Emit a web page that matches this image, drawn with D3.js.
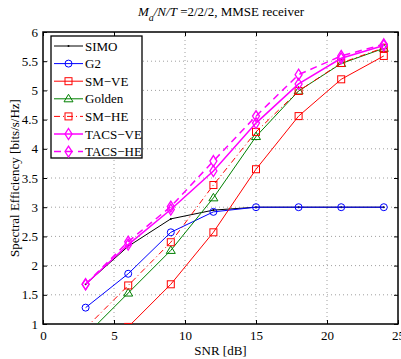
<!DOCTYPE html>
<html>
<head>
<meta charset="utf-8">
<script src="https://cdn.jsdelivr.net/npm/d3@7"></script>
<style>
  body { margin: 0; background: #fff; }
  svg { display: block; font-family: "Liberation Serif", "DejaVu Serif", serif; }
</style>
</head>
<body>
<div id="chart"></div>
<script>
const snr = [3, 6, 9, 12, 15, 18, 21, 24];
const simo = [1.68, 2.33, 2.80, 2.95, 3.0, 3.0, 3.0, 3.0];
const g2 = [1.28, 1.86, 2.57, 2.92, 3.0, 3.0, 3.0, 3.0];
const smVe = [0.45, 0.95, 1.68, 2.57, 3.65, 4.56, 5.19, 5.59];
const golden = [0.80, 1.53, 2.26, 3.16, 4.21, 4.99, 5.46, 5.72];
const smHe = [0.93, 1.66, 2.40, 3.38, 4.29, 4.99, 5.47, 5.73];
const tacsVe = [1.68, 2.36, 2.96, 3.62, 4.44, 5.11, 5.55, 5.77];
const tacsHe = [1.68, 2.41, 3.01, 3.79, 4.56, 5.27, 5.59, 5.79];
const seriesNames = ['SIMO', 'G2', 'SM\u2212VE', 'Golden', 'SM\u2212HE', 'TACS\u2212VE', 'TACS\u2212HE'];
const xTicks = [0, 5, 10, 15, 20, 25];
const yTicks = [1, 1.5, 2, 2.5, 3, 3.5, 4, 4.5, 5, 5.5, 6];

const series = [
  { name: seriesNames[0], values: simo, color: '#000', dash: null, marker: 'dot', width: 1 },
  { name: seriesNames[1], values: g2, color: '#0000ff', dash: null, marker: 'circle', width: 1 },
  { name: seriesNames[2], values: smVe, color: '#ff0000', dash: null, marker: 'square', width: 1 },
  { name: seriesNames[3], values: golden, color: '#008000', dash: null, marker: 'triangle', width: 1 },
  { name: seriesNames[4], values: smHe, color: '#ff0000', dash: '6,3,1,3', marker: 'square', width: 1 },
  { name: seriesNames[5], values: tacsVe, color: '#ff00ff', dash: null, marker: 'diamond', width: 1.5 },
  { name: seriesNames[6], values: tacsHe, color: '#ff00ff', dash: '7,5', marker: 'diamond', width: 1.5 }
];

const W = 401, H = 359;
const margin = { left: 43, top: 32, right: 3, bottom: 35 };
const pw = W - margin.left - margin.right;
const ph = H - margin.top - margin.bottom;

const svg = d3.select('#chart').append('svg').attr('width', W).attr('height', H);

const x = d3.scaleLinear().domain([0, 25]).range([margin.left, margin.left + pw]);
const y = d3.scaleLinear().domain([1, 6]).range([margin.top + ph, margin.top]);

svg.append('defs').append('clipPath').attr('id', 'clip')
  .append('rect').attr('x', margin.left).attr('y', margin.top).attr('width', pw).attr('height', ph);

// grid
const grid = svg.append('g').attr('stroke', '#888').attr('stroke-width', 0.8).attr('stroke-dasharray', '1,3');
xTicks.slice(1, -1).forEach(t => grid.append('line')
  .attr('x1', x(t)).attr('x2', x(t)).attr('y1', margin.top).attr('y2', margin.top + ph));
yTicks.slice(1, -1).forEach(t => grid.append('line')
  .attr('x1', margin.left).attr('x2', margin.left + pw).attr('y1', y(t)).attr('y2', y(t)));

// axes, MATLAB style ticks inside
const tickLen = 4;
const axB = svg.append('g').attr('transform', `translate(0,${margin.top + ph})`)
  .call(d3.axisBottom(x).tickValues(xTicks).tickSizeInner(-tickLen).tickSizeOuter(0).tickPadding(7));
const axT = svg.append('g').attr('transform', `translate(0,${margin.top})`)
  .call(d3.axisTop(x).tickValues(xTicks).tickSizeInner(-tickLen).tickSizeOuter(0).tickFormat(''));
const axL = svg.append('g').attr('transform', `translate(${margin.left},0)`)
  .call(d3.axisLeft(y).tickValues(yTicks).tickSizeInner(-tickLen).tickSizeOuter(0).tickPadding(5).tickFormat(d3.format('')));
const axR = svg.append('g').attr('transform', `translate(${margin.left + pw},0)`)
  .call(d3.axisRight(y).tickValues(yTicks).tickSizeInner(-tickLen).tickSizeOuter(0).tickFormat(''));
[axB, axT, axL, axR].forEach(a => {
  a.select('.domain').remove();
  a.selectAll('line').attr('stroke', '#000');
  a.selectAll('text').attr('font-family', '"Liberation Serif", serif').attr('font-size', 13).attr('fill', '#000');
});
svg.append('rect').attr('x', margin.left).attr('y', margin.top).attr('width', pw).attr('height', ph)
  .attr('fill', 'none').attr('stroke', '#000').attr('stroke-width', 1.5);

function drawMarker(g, type, cx, cy, color) {
  if (type === 'circle') {
    g.append('circle').attr('cx', cx).attr('cy', cy).attr('r', 3.5)
      .attr('fill', 'none').attr('stroke', color).attr('stroke-width', 1);
  } else if (type === 'square') {
    g.append('rect').attr('x', cx - 3.5).attr('y', cy - 3.5).attr('width', 7).attr('height', 7)
      .attr('fill', 'none').attr('stroke', color).attr('stroke-width', 1);
  } else if (type === 'triangle') {
    g.append('path').attr('d', `M${cx},${cy - 4.5}L${cx + 4.5},${cy + 3}L${cx - 4.5},${cy + 3}Z`)
      .attr('fill', 'none').attr('stroke', color).attr('stroke-width', 1);
  } else if (type === 'diamond') {
    g.append('path').attr('d', `M${cx},${cy - 5.5}L${cx + 3.5},${cy}L${cx},${cy + 5.5}L${cx - 3.5},${cy}Z`)
      .attr('fill', 'none').attr('stroke', color).attr('stroke-width', 1.3);
  } else if (type === 'dot') {
    g.append('circle').attr('cx', cx).attr('cy', cy).attr('r', 1).attr('fill', color);
  }
}

const line = d3.line().x((d, i) => x(snr[i])).y(d => y(d));
const plot = svg.append('g').attr('clip-path', 'url(#clip)');
series.forEach(s => {
  plot.append('path').datum(s.values).attr('d', line)
    .attr('fill', 'none').attr('stroke', s.color).attr('stroke-width', s.width)
    .attr('stroke-dasharray', s.dash);
  const mg = plot.append('g');
  s.values.forEach((v, i) => drawMarker(mg, s.marker, x(snr[i]), y(v), s.color));
});

// legend
const lg = svg.append('g');
const lx = 51, ly = 36, lw = 91, lh = 122;
lg.append('rect').attr('x', lx).attr('y', ly).attr('width', lw).attr('height', lh)
  .attr('fill', '#fff').attr('stroke', '#000').attr('stroke-width', 1.3);
series.forEach((s, i) => {
  const cy = ly + 10 + i * 17.6;
  lg.append('line').attr('x1', lx + 3).attr('x2', lx + 32).attr('y1', cy).attr('y2', cy)
    .attr('stroke', s.color).attr('stroke-width', s.width).attr('stroke-dasharray', s.dash);
  drawMarker(lg, s.marker, lx + 17.5, cy, s.color);
  lg.append('text').attr('x', lx + 34).attr('y', cy + 4.5).attr('font-size', 13).text(s.name);
});

// title
const title = svg.append('text').attr('x', 221).attr('y', 16).attr('text-anchor', 'middle').attr('font-size', 13);
title.append('tspan').attr('font-style', 'italic').text('M');
title.append('tspan').attr('font-style', 'italic').attr('font-size', 10).attr('dy', 5).text('a');
title.append('tspan').attr('font-style', 'italic').attr('dy', -5).text('/N/T');
title.append('tspan').text(' =2/2/2, MMSE receiver');

svg.append('text').attr('x', margin.left + pw / 2).attr('y', 355).attr('text-anchor', 'middle')
  .attr('font-size', 13).text('SNR [dB]');
svg.append('text').attr('transform', `translate(19,${margin.top + ph / 2}) rotate(-90)`)
  .attr('text-anchor', 'middle').attr('font-size', 13).text('Spectral Efficiency [bits/s/Hz]');
</script>
</body>
</html>
